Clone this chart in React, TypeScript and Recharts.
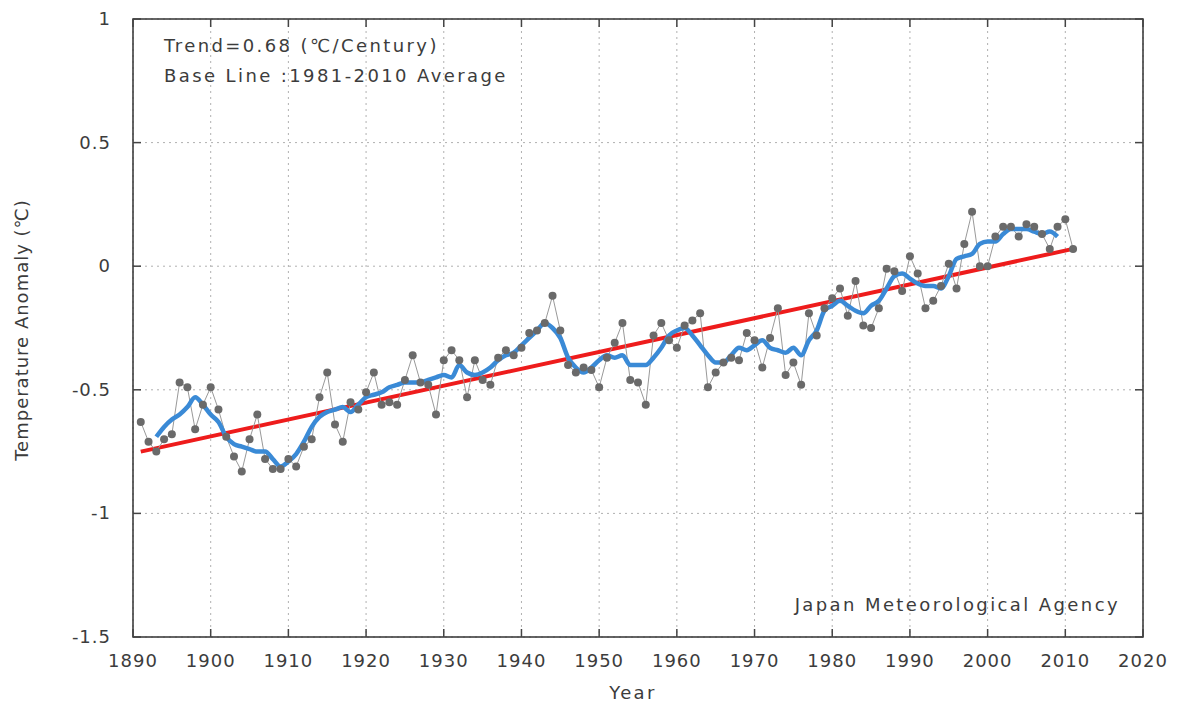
import React from 'react';
import { ComposedChart, Line, XAxis, YAxis, CartesianGrid, ReferenceArea } from 'recharts';

// annual mean anomaly (gray dots)
const annualYears = [
  1891, 1892, 1893, 1894, 1895, 1896, 1897, 1898, 1899, 1900,
  1901, 1902, 1903, 1904, 1905, 1906, 1907, 1908, 1909, 1910,
  1911, 1912, 1913, 1914, 1915, 1916, 1917, 1918, 1919, 1920,
  1921, 1922, 1923, 1924, 1925, 1926, 1927, 1928, 1929, 1930,
  1931, 1932, 1933, 1934, 1935, 1936, 1937, 1938, 1939, 1940,
  1941, 1942, 1943, 1944, 1945, 1946, 1947, 1948, 1949, 1950,
  1951, 1952, 1953, 1954, 1955, 1956, 1957, 1958, 1959, 1960,
  1961, 1962, 1963, 1964, 1965, 1966, 1967, 1968, 1969, 1970,
  1971, 1972, 1973, 1974, 1975, 1976, 1977, 1978, 1979, 1980,
  1981, 1982, 1983, 1984, 1985, 1986, 1987, 1988, 1989, 1990,
  1991, 1992, 1993, 1994, 1995, 1996, 1997, 1998, 1999, 2000,
  2001, 2002, 2003, 2004, 2005, 2006, 2007, 2008, 2009, 2010,
  2011,
];
const annualValues = [
  -0.63, -0.71, -0.75, -0.70, -0.68, -0.47, -0.49, -0.66, -0.56, -0.49,
  -0.58, -0.69, -0.77, -0.83, -0.70, -0.60, -0.78, -0.82, -0.82, -0.78,
  -0.81, -0.73, -0.70, -0.53, -0.43, -0.64, -0.71, -0.55, -0.58, -0.51,
  -0.43, -0.56, -0.55, -0.56, -0.46, -0.36, -0.47, -0.48, -0.60, -0.38,
  -0.34, -0.38, -0.53, -0.38, -0.46, -0.48, -0.37, -0.34, -0.36, -0.33,
  -0.27, -0.26, -0.23, -0.12, -0.26, -0.40, -0.43, -0.41, -0.42, -0.49,
  -0.37, -0.31, -0.23, -0.46, -0.47, -0.56, -0.28, -0.23, -0.30, -0.33,
  -0.24, -0.22, -0.19, -0.49, -0.43, -0.39, -0.37, -0.38, -0.27, -0.30,
  -0.41, -0.29, -0.17, -0.44, -0.39, -0.48, -0.19, -0.28, -0.17, -0.13,
  -0.09, -0.20, -0.06, -0.24, -0.25, -0.17, -0.01, -0.02, -0.10, 0.04,
  -0.03, -0.17, -0.14, -0.08, 0.01, -0.09, 0.09, 0.22, 0.0, 0.0,
  0.12, 0.16, 0.16, 0.12, 0.17, 0.16, 0.13, 0.07, 0.16, 0.19,
  0.07,
];

// 5-year running mean (blue)
const smoothYears = annualYears.slice(2, -2);
const smoothValues = [
  -0.69, -0.65, -0.62, -0.60, -0.57, -0.53, -0.56, -0.60,
  -0.63, -0.69, -0.72, -0.73, -0.74, -0.75, -0.75, -0.78, -0.81, -0.79,
  -0.76, -0.71, -0.65, -0.61, -0.59, -0.58, -0.57, -0.59, -0.56, -0.53,
  -0.52, -0.51, -0.49, -0.48, -0.47, -0.47, -0.47, -0.46, -0.45, -0.44,
  -0.45, -0.40, -0.43, -0.44, -0.43, -0.41, -0.38, -0.36, -0.35, -0.32,
  -0.29, -0.26, -0.23, -0.25, -0.29, -0.37, -0.41, -0.43, -0.41, -0.38,
  -0.36, -0.37, -0.36, -0.40, -0.40, -0.40, -0.37, -0.33, -0.28, -0.26,
  -0.25, -0.28, -0.32, -0.36, -0.39, -0.39, -0.36, -0.33, -0.34, -0.32,
  -0.30, -0.33, -0.34, -0.35, -0.33, -0.36, -0.30, -0.26, -0.18, -0.16,
  -0.14, -0.16, -0.18, -0.19, -0.16, -0.14, -0.09, -0.04, -0.03, -0.05,
  -0.07, -0.08, -0.08, -0.09, -0.04, 0.03, 0.04, 0.05, 0.09, 0.10,
  0.10, 0.13, 0.15, 0.15, 0.15, 0.14, 0.13, 0.14, 0.12,
];

// long-term trend (red), endpoints only
const trendYears = [1891, 2011];
const trendValues = [-0.75, 0.07];

const xTicks = [1890, 1900, 1910, 1920, 1930, 1940, 1950, 1960, 1970, 1980, 1990, 2000, 2010, 2020];
const yTicks = [-1.5, -1, -0.5, 0, 0.5, 1];

const data = annualYears.map((year, i) => {
  const s = smoothYears.indexOf(year);
  const t = trendYears.indexOf(year);
  return {
    year,
    annual: annualValues[i],
    smooth: s >= 0 ? smoothValues[s] : undefined,
    trend: t >= 0 ? trendValues[t] : undefined,
  };
});

const W = 1174;
const H = 703;
const PLOT = { left: 125, right: 1135, top: 11, bottom: 629 };
const TICK = 8;
const FONT = '"DejaVu Sans", sans-serif';
const TEXT = '#3c3c3c';

const BottomTick = (props: any) => {
  const { x, payload } = props;
  return (
    <g>
      <line x1={x} x2={x} y1={PLOT.bottom} y2={PLOT.bottom - TICK} stroke="#444" strokeWidth={1.5} />
      <line x1={x} x2={x} y1={PLOT.top} y2={PLOT.top + TICK} stroke="#444" strokeWidth={1.5} />
      <text x={x} y={PLOT.bottom + 30} textAnchor="middle" fill={TEXT} fontSize={18} fontFamily={FONT} letterSpacing={1}>
        {payload.value}
      </text>
    </g>
  );
};

const LeftTick = (props: any) => {
  const { y, payload } = props;
  return (
    <g>
      <line x1={PLOT.left} x2={PLOT.left + TICK} y1={y} y2={y} stroke="#444" strokeWidth={1.5} />
      <line x1={PLOT.right} x2={PLOT.right - TICK} y1={y} y2={y} stroke="#444" strokeWidth={1.5} />
      <text x={PLOT.left - 22} y={y + 6} textAnchor="end" fill={TEXT} fontSize={18} fontFamily={FONT} letterSpacing={1}>
        {payload.value}
      </text>
    </g>
  );
};

const note: React.CSSProperties = {
  position: 'absolute',
  fontFamily: FONT,
  fontSize: 18,
  lineHeight: '20px',
  letterSpacing: 2.4,
  color: TEXT,
  whiteSpace: 'nowrap',
};

const App: React.FC = () => {
  return (
    <div style={{ position: 'relative', width: W, height: H }}>
      <ComposedChart width={W} height={H} data={data} margin={{ top: 11, right: 39, bottom: 0, left: 0 }}>
        <CartesianGrid stroke="#b0b0b0" strokeDasharray="2 4" />
        <XAxis
          dataKey="year"
          type="number"
          domain={[1890, 2020]}
          ticks={xTicks}
          allowDataOverflow
          height={74}
          tickLine={false}
          axisLine={false}
          tick={<BottomTick />}
          interval={0}
        />
        <YAxis
          type="number"
          domain={[-1.5, 1]}
          ticks={yTicks}
          allowDataOverflow
          width={125}
          tickLine={false}
          axisLine={false}
          tick={<LeftTick />}
          interval={0}
        />
        <Line
          dataKey="trend"
          stroke="#ee1c1c"
          strokeWidth={4}
          dot={false}
          connectNulls
          isAnimationActive={false}
        />
        <Line
          dataKey="annual"
          stroke="#999"
          strokeWidth={1}
          dot={{ r: 4, fill: '#6a6a6a', stroke: 'none' }}
          isAnimationActive={false}
        />
        <Line
          type="monotone"
          dataKey="smooth"
          stroke="#3a8ad6"
          strokeWidth={4.5}
          dot={false}
          isAnimationActive={false}
        />
        <ReferenceArea x1={1890} x2={2020} y1={-1.5} y2={1} fill="none" stroke="#333" strokeWidth={1.5} ifOverflow="visible" />
      </ComposedChart>

      <div style={{ ...note, left: 156, top: 28 }}>Trend=0.68 (℃/Century)</div>
      <div style={{ ...note, left: 156, top: 58 }}>Base Line :1981-2010 Average</div>
      <div style={{ ...note, right: 62, top: 587 }}>Japan Meteorological Agency</div>
      <div style={{ ...note, left: 575, top: 675, width: 100, textAlign: 'center' }}>Year</div>
      <div
        style={{
          ...note,
          left: 14 - 160,
          top: 322 - 10,
          width: 320,
          textAlign: 'center',
          letterSpacing: 1,
          transform: 'rotate(-90deg)',
        }}
      >
        Temperature Anomaly (℃)
      </div>
    </div>
  );
};

export default App;
